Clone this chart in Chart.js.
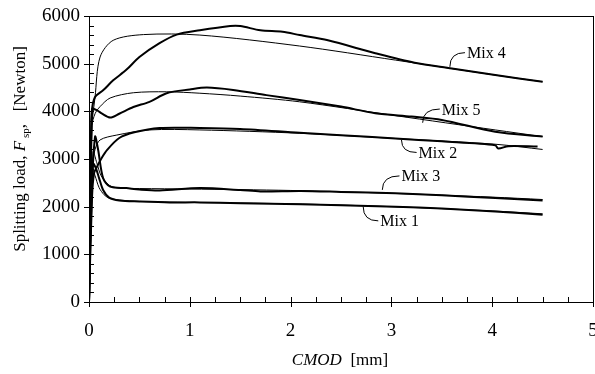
<!DOCTYPE html>
<html>
<head>
<meta charset="utf-8">
<script src="https://cdn.jsdelivr.net/npm/chart.js@4"></script>
<style>
  html, body { margin: 0; padding: 0; background: #fff; }
</style>
</head>
<body>
<canvas id="splitChart" width="595" height="374"></canvas>
<script>
// CMOD [mm] vs splitting load [N]
// "test" = measured (thick), "model" = fitted (thin)
const mix1Test = [[0,0],[0.02,1800],[0.04,2900],[0.07,2800],[0.1,2600],[0.14,2350],[0.2,2190],[0.3,2130],[0.5,2110],[0.8,2090],[1.1,2090],[1.5,2070],[2.1,2050],[2.5,2030],[3.04,2000],[3.5,1960],[4.03,1900],[4.5,1830]];
const mix1Model = [[0,0],[0.035,2800],[0.06,2650],[0.1,2400],[0.15,2250],[0.2,2180],[0.3,2140],[0.5,2110],[1,2090],[2,2060],[3,2000],[4,1910],[4.5,1850]];
const mix2Test = [[0,0],[0.03,2200],[0.05,2700],[0.08,2840],[0.12,3000],[0.18,3190],[0.3,3440],[0.45,3560],[0.7,3650],[1.1,3650],[1.5,3630],[2.09,3550],[2.5,3500],[3.04,3430],[3.5,3370],[4.03,3290],[4.06,3220],[4.16,3270],[4.45,3260]];
const mix2Model = [[0,0],[0.03,2800],[0.06,3200],[0.11,3400],[0.27,3500],[0.6,3610],[1.1,3610],[2.09,3540],[3.04,3430],[4.03,3310],[4.5,3200]];
const mix3Test = [[0,0],[0.02,2000],[0.06,3470],[0.09,3200],[0.14,2600],[0.21,2420],[0.37,2390],[0.5,2360],[0.7,2340],[1.1,2390],[1.5,2350],[1.7,2320],[2.1,2330],[2.5,2310],[3.04,2280],[3.5,2240],[4.03,2180],[4.5,2130]];
const mix3Model = [[0,0],[0.04,3150],[0.08,2900],[0.12,2650],[0.2,2450],[0.3,2390],[0.5,2380],[1,2370],[2,2340],[3,2280],[4,2200],[4.5,2150]];
const mix4Test = [[0,0],[0.03,4000],[0.06,4300],[0.14,4440],[0.24,4650],[0.37,4870],[0.5,5140],[0.7,5430],[0.87,5610],[1.1,5700],[1.4,5790],[1.5,5790],[1.7,5700],[1.92,5670],[2.09,5600],[2.37,5490],[2.84,5220],[3.23,5020],[3.6,4900],[4.03,4760],[4.5,4620]];
const mix4Model = [[0,0],[0.02,3500],[0.06,4300],[0.11,5140],[0.24,5490],[0.54,5610],[1.1,5600],[2.09,5370],[3.04,5075],[4.03,4760],[4.5,4620]];
const mix5Test = [[0,0],[0.02,3000],[0.03,4050],[0.08,4020],[0.13,3950],[0.21,3870],[0.3,3950],[0.44,4090],[0.6,4200],[0.77,4380],[1.0,4460],[1.17,4500],[1.43,4450],[1.76,4340],[2.09,4240],[2.5,4100],[2.84,3960],[3.2,3890],[3.5,3820],[4.03,3570],[4.5,3470]];
const mix5Model = [[0,0],[0.03,3700],[0.06,3950],[0.11,4100],[0.21,4280],[0.44,4390],[0.77,4410],[1.1,4380],[1.5,4320],[2.09,4200],[3.04,3910],[4.03,3610],[4.5,3470]];

const xTicks = [0, 1, 2, 3, 4, 5];
const yTicks = [0, 1000, 2000, 3000, 4000, 5000, 6000];

// curve labels: name, leader start (on curve), leader end (at text), in data units
const notes = [
  { text: 'Mix 4', from: [3.58, 4934], to: [3.73, 5231] },
  { text: 'Mix 5', from: [3.31, 3761], to: [3.48, 4048] },
  { text: 'Mix 2', from: [3.10, 3399], to: [3.25, 3137] },
  { text: 'Mix 3', from: [2.91, 2352], to: [3.08, 2645] },
  { text: 'Mix 1', from: [2.72, 2002], to: [2.87, 1702] }
];

const serif = '"Liberation Serif", "Times New Roman", serif';

function pts(arr) {
  return arr.map(p => ({ x: p[0], y: p[1] }));
}

function curve(arr, thick) {
  return {
    data: pts(arr),
    borderColor: '#000',
    borderWidth: thick ? 2 : 1,
    pointRadius: 0,
    fill: false,
    tension: 0.3
  };
}

function drawParts(ctx, parts, cx, baseY) {
  let w = 0;
  parts.forEach(p => { ctx.font = p[1]; w += ctx.measureText(p[0]).width; });
  let x = cx - w / 2;
  parts.forEach(p => {
    ctx.font = p[1];
    ctx.fillText(p[0], x, baseY + p[2]);
    x += ctx.measureText(p[0]).width;
  });
}

const extras = {
  id: 'extras',
  afterDraw(chart) {
    const { ctx, chartArea: a } = chart;
    const sx = chart.scales.x, sy = chart.scales.y;
    ctx.save();
    ctx.strokeStyle = '#000';
    ctx.fillStyle = '#000';
    ctx.lineWidth = 1;

    // frame
    ctx.strokeRect(Math.round(a.left) + 0.5, Math.round(a.top) + 0.5,
      Math.round(a.right - a.left), Math.round(a.bottom - a.top));

    // inward ticks, majors cross the axis
    ctx.beginPath();
    for (let i = 0; i <= 20; i++) {
      const v = i * 0.25;
      const px = Math.round(sx.getPixelForValue(v)) + 0.5;
      ctx.moveTo(px, a.bottom - 5);
      ctx.lineTo(px, a.bottom + (i % 4 === 0 ? 5 : 0));
    }
    for (let i = 0; i <= 30; i++) {
      const py = Math.round(sy.getPixelForValue(i * 200)) + 0.5;
      ctx.moveTo(a.left - (i % 5 === 0 ? 5 : 0), py);
      ctx.lineTo(a.left + 5, py);
    }
    ctx.stroke();

    // axis titles
    ctx.textBaseline = 'alphabetic';
    ctx.textAlign = 'left';
    drawParts(ctx, [
      ['CMOD', 'italic 17px ' + serif, 0],
      ['  [mm]', '17px ' + serif, 0]
    ], 340, 365);

    ctx.save();
    ctx.translate(25, 149);
    ctx.rotate(-Math.PI / 2);
    drawParts(ctx, [
      ['Splitting load, ', '17px ' + serif, 0],
      ['F', 'italic 17px ' + serif, 0],
      [' sp', '11px ' + serif, 4],
      [',   [Newton]', '17px ' + serif, 0]
    ], 0, 0);
    ctx.restore();

    // curve labels with curved leaders
    ctx.font = '16px ' + serif;
    notes.forEach(n => {
      const x0 = sx.getPixelForValue(n.from[0]), y0 = sy.getPixelForValue(n.from[1]);
      const x1 = sx.getPixelForValue(n.to[0]), y1 = sy.getPixelForValue(n.to[1]);
      ctx.beginPath();
      ctx.moveTo(x0, y0);
      ctx.quadraticCurveTo(x0, y1, x1, y1);
      ctx.stroke();
      ctx.fillText(n.text, x1 + 2, y1 + 5.5);
    });
    ctx.restore();
  }
};

new Chart(document.getElementById('splitChart'), {
  type: 'line',
  data: {
    datasets: [
      curve(mix4Model, false), curve(mix4Test, true),
      curve(mix5Model, false), curve(mix5Test, true),
      curve(mix2Model, false), curve(mix2Test, true),
      curve(mix3Model, false), curve(mix3Test, true),
      curve(mix1Model, false), curve(mix1Test, true)
    ]
  },
  options: {
    responsive: false,
    animation: false,
    layout: { padding: { left: 0, right: 2, top: 16, bottom: 0 } },
    plugins: { legend: { display: false }, tooltip: { enabled: false } },
    scales: {
      x: {
        type: 'linear',
        min: 0,
        max: 5,
        afterBuildTicks: s => { s.ticks = xTicks.map(v => ({ value: v })); },
        afterFit: s => { s.height = 72; s.paddingLeft = 0; s.paddingRight = 0; },
        grid: { display: false, drawTicks: false },
        border: { display: false },
        ticks: { color: '#000', padding: 18, maxRotation: 0, callback: v => String(v), font: { family: serif, size: 19 } }
      },
      y: {
        type: 'linear',
        min: 0,
        max: 6000,
        afterBuildTicks: s => { s.ticks = yTicks.map(v => ({ value: v })); },
        afterFit: s => { s.width = 89; s.paddingTop = 0; s.paddingBottom = 0; },
        grid: { display: false, drawTicks: false },
        border: { display: false },
        ticks: { color: '#000', padding: 9, callback: v => String(v), font: { family: serif, size: 19 } }
      }
    }
  },
  plugins: [extras]
});
</script>
</body>
</html>
